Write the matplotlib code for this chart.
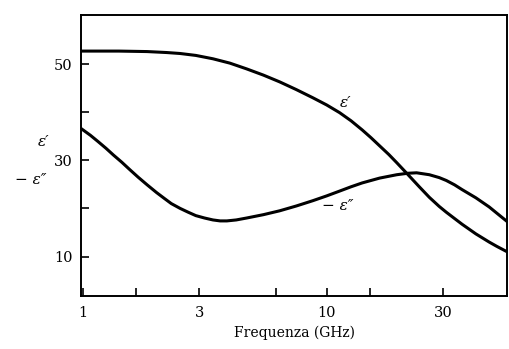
import numpy as np
import matplotlib.pyplot as plt

# frequency (GHz) and values
f_eps1 = [0.98, 1.4, 1.83, 2.2, 2.5, 2.9, 3.41, 4.0, 4.69, 5.5, 6.41, 7.5, 8.77, 10.0, 11.3, 12.6, 14.0, 15.2, 16.5, 18.0, 19.4, 21.5, 24.0, 26.4, 29.0, 31.0, 33.5, 36.0, 41.0, 46.5, 50.0, 55.0]
eps1 = [52.7, 52.7, 52.6, 52.4, 52.2, 51.8, 51.1, 50.2, 49.0, 47.7, 46.3, 44.7, 43.0, 41.5, 39.9, 38.2, 36.3, 34.7, 33.0, 31.2, 29.5, 27.1, 24.5, 22.3, 20.4, 19.2, 17.9, 16.7, 14.7, 13.0, 12.1, 11.0]

f_eps2 = [0.98, 1.07, 1.15, 1.24, 1.33, 1.44, 1.55, 1.68, 1.83, 2.0, 2.15, 2.3, 2.5, 2.7, 2.9, 3.15, 3.41, 3.65, 3.89, 4.25, 4.69, 5.5, 6.41, 7.5, 8.77, 10.0, 11.3, 12.6, 14.0, 16.5, 19.4, 21.5, 23.4, 26.4, 29.0, 31.0, 33.5, 36.0, 41.0, 46.5, 50.0, 55.0]
eps2 = [36.6, 35.2, 33.9, 32.5, 31.1, 29.6, 28.1, 26.5, 24.9, 23.3, 22.1, 21.0, 20.0, 19.2, 18.5, 18.0, 17.6, 17.4, 17.4, 17.6, 18.0, 18.7, 19.5, 20.5, 21.6, 22.6, 23.6, 24.5, 25.3, 26.3, 27.0, 27.3, 27.4, 27.0, 26.4, 25.8, 24.9, 23.9, 22.2, 20.3, 19.0, 17.3]

x_major = [1, 3, 10, 30]
x_minor = [1.65, 6.2, 15]
y_major = [10, 20, 30, 40, 50]
y_labels = ['10', '', '30', '', '50']

plt.rcParams['font.family'] = ['DejaVu Serif']

fig = plt.figure(figsize=(5.1, 3.49), dpi=100)
ax = fig.add_axes([0.159, 0.152, 0.835, 0.805])

ax.plot(f_eps1, eps1, color='black', lw=2.2, solid_joinstyle='round')
ax.plot(f_eps2, eps2, color='black', lw=2.2, solid_joinstyle='round')

ax.set_xscale('log')
ax.set_xlim(0.98, 55)
ax.set_ylim(1.8, 60.2)

ax.set_xticks(x_major)
ax.set_xticklabels([str(v) for v in x_major])
ax.set_xticks(x_minor, minor=True)
ax.set_xticklabels([], minor=True)
ax.set_yticks(y_major)
ax.set_yticklabels(y_labels)
ax.yaxis.set_minor_locator(plt.NullLocator())

ax.tick_params(axis='both', which='both', direction='in', length=6, width=1.2,
               labelsize=10.5, top=False, right=False)
ax.tick_params(axis='x', pad=7)
ax.tick_params(axis='y', pad=6)
for s in ax.spines.values():
    s.set_linewidth(1.4)

ax.set_xlabel('Frequenza (GHz)', fontsize=10, labelpad=4)

ax.text(11.3, 42.0, 'ε′', fontsize=11, style='italic', va='center', ha='left')
ax.text(9.6, 20.6, '− ε″', fontsize=11, style='italic', va='center', ha='left')

fig.text(0.075, 1 - 142 / 349, 'ε′', fontsize=11, style='italic', va='center', ha='left')
fig.text(0.03, 1 - 180 / 349, '− ε″', fontsize=11, style='italic', va='center', ha='left')

fig.savefig('out.png', dpi=100)
